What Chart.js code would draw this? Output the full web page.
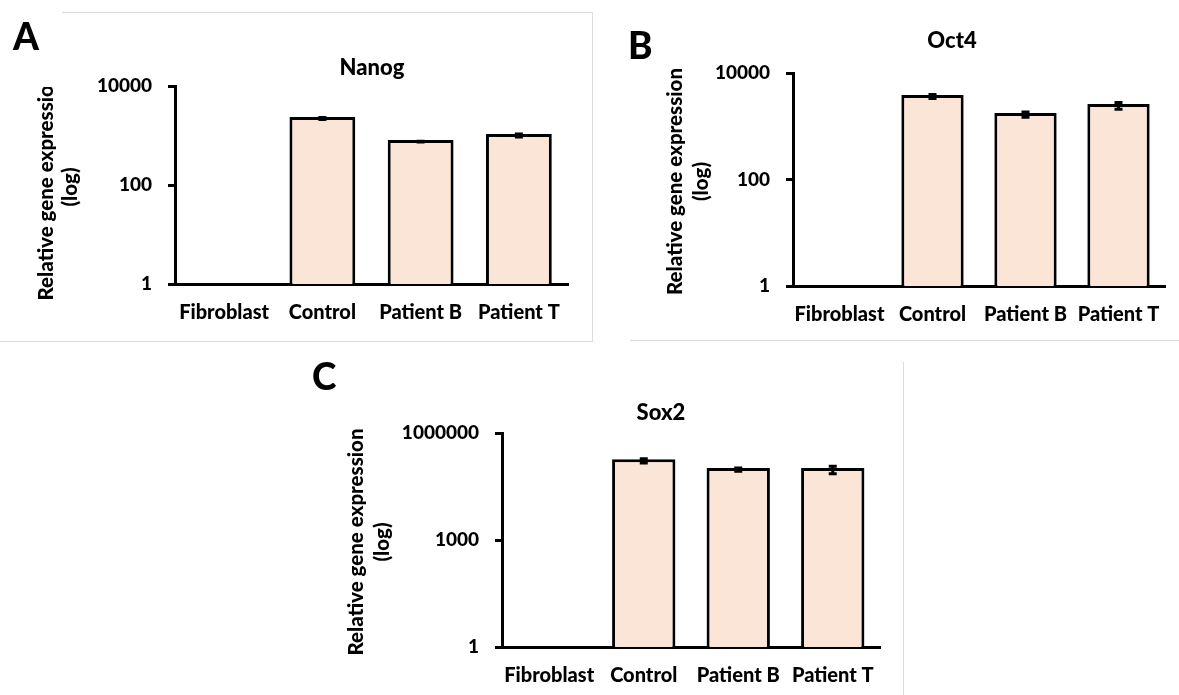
<!DOCTYPE html>
<html>
<head>
<meta charset="utf-8">
<script src="https://cdn.jsdelivr.net/npm/chart.js@4.4.1/dist/chart.umd.min.js"></script>
<style>
  body { margin: 0; background: #fff; }
  #wrap { position: relative; width: 1179px; height: 695px; overflow: hidden; }
  canvas { position: absolute; }
  .rule { position: absolute; background: #dcdcdc; }
</style>
</head>
<body>
<div id="wrap">
  <!-- cadres gris clairs autour des panneaux -->
  <div class="rule" style="left:62px;top:12px;width:530px;height:1px"></div>
  <div class="rule" style="left:592px;top:12px;width:1px;height:330px"></div>
  <div class="rule" style="left:0;top:341px;width:593px;height:1px"></div>
  <div class="rule" style="left:630px;top:340px;width:549px;height:1px"></div>
  <div class="rule" style="left:903px;top:362px;width:1px;height:333px"></div>

  <canvas id="chartA" width="600" height="345" style="left:0;top:0"></canvas>
  <canvas id="chartB" width="579" height="345" style="left:600px;top:0"></canvas>
  <canvas id="chartC" width="610" height="340" style="left:300px;top:355px"></canvas>
</div>

<script>
// Données
const categories = ["Fibroblast", "Control", "Patient B", "Patient T"];

const nanogValues = [1, 2360, 810, 1070];
const nanogErrors = [0, 110, 15, 75];

const oct4Values = [1, 3870, 1780, 2610];
const oct4Errors = [0, 330, 200, 380];

const sox2Values = [1, 185000, 104000, 104000];
const sox2Errors = [0, 25000, 11000, 25000];

const ticksSmall = [1, 100, 10000];
const ticksLarge = [1, 1000, 1000000];

const yLabelLines = ["Relative gene expression", "(log)"];

Chart.defaults.font.family = "Lato";
Chart.defaults.color = "#000";

// Barres d'erreur dessinées à partir de l'échelle y
const errorBars = {
  id: "errorBars",
  afterDatasetsDraw(chart, args, opts) {
    const meta = chart.getDatasetMeta(0);
    const y = chart.scales.y;
    const ctx = chart.ctx;
    const values = chart.data.datasets[0].data;
    ctx.save();
    ctx.strokeStyle = "#000";
    ctx.lineWidth = 3;
    meta.data.forEach((bar, i) => {
      const e = opts.errors[i];
      if (!e) return;
      const top = y.getPixelForValue(values[i] + e) + 1.5;
      const bot = y.getPixelForValue(values[i] - e) + 1.5;
      ctx.beginPath();
      ctx.moveTo(bar.x, top);
      ctx.lineTo(bar.x, bot);
      ctx.moveTo(bar.x - 4, top);
      ctx.lineTo(bar.x + 4, top);
      ctx.moveTo(bar.x - 4, bot);
      ctx.lineTo(bar.x + 4, bot);
      ctx.stroke();
    });
    ctx.restore();
  },
};

// Lettre du panneau, titre et titre de l'axe y
const panelText = {
  id: "panelText",
  afterDraw(chart, args, opts) {
    const ctx = chart.ctx;
    const area = chart.chartArea;
    ctx.save();
    ctx.fillStyle = "#000";
    ctx.textBaseline = "alphabetic";

    ctx.font = "900 37px Lato";
    ctx.textAlign = "left";
    ctx.fillText(opts.letter, opts.letterX, opts.letterY);

    ctx.font = "900 22px Lato";
    ctx.textAlign = "center";
    ctx.fillText(opts.title, opts.titleX, opts.titleY);

    if (opts.clipTop) {
      ctx.beginPath();
      ctx.rect(0, opts.clipTop, chart.width, chart.height);
      ctx.clip();
    }
    const cy = (area.top + area.bottom) / 2 + 2;
    ctx.font = "900 20.5px Lato";
    ctx.textBaseline = "middle";
    yLabelLines.forEach((line, i) => {
      ctx.save();
      ctx.translate(opts.yLabelX[i], cy);
      ctx.rotate(-Math.PI / 2);
      ctx.fillText(line, 0, 0);
      ctx.restore();
    });
    ctx.restore();
  },
};

function makeChart(id, values, errors, tickValues, yMax, padding, text) {
  return new Chart(document.getElementById(id), {
    type: "bar",
    data: {
      labels: categories,
      datasets: [
        {
          data: values,
          backgroundColor: "#FBE5D6",
          borderColor: "#000",
          borderWidth: 3,
          borderSkipped: "bottom",
          barPercentage: 0.67,
          categoryPercentage: 1,
        },
      ],
    },
    options: {
      responsive: false,
      animation: false,
      layout: { padding: padding },
      plugins: {
        legend: { display: false },
        tooltip: { enabled: false },
        errorBars: { errors: errors },
        panelText: text,
      },
      scales: {
        x: {
          offset: true,
          grid: { display: false, drawTicks: false },
          border: { display: true, color: "#000", width: 3 },
          ticks: { padding: 17, font: { size: 20, weight: "900" }, maxRotation: 0 },
          afterFit: (s) => { s.height = 45; },
        },
        y: {
          type: "logarithmic",
          min: 1,
          max: yMax,
          grid: { drawOnChartArea: false, drawTicks: true, tickLength: 7, color: "#000", lineWidth: 3 },
          border: { display: true, color: "#000", width: 3 },
          ticks: {
            padding: 16,
            font: { size: 19, weight: "900" },
            callback: (v) => String(v),
          },
          afterBuildTicks: (s) => { s.ticks = tickValues.map((v) => ({ value: v })); },
          afterFit: (s) => { s.width = 100; },
        },
      },
    },
    plugins: [errorBars, panelText],
  });
}

makeChart("chartA", nanogValues, nanogErrors, ticksSmall, 10000,
  { left: 75, top: 86, right: 32, bottom: 16 },
  { letter: "A", letterX: 13, letterY: 50, title: "Nanog", titleX: 372, titleY: 75,
    yLabelX: [46, 70], clipTop: 87 });

makeChart("chartB", oct4Values, oct4Errors, ticksSmall, 10000,
  { left: 93, top: 73, right: 14, bottom: 14 },
  { letter: "B", letterX: 28, letterY: 59, title: "Oct4", titleX: 352, titleY: 48,
    yLabelX: [75, 101] });

makeChart("chartC", sox2Values, sox2Errors, ticksLarge, 1000000,
  { left: 102, top: 78, right: 30, bottom: 3 },
  { letter: "C", letterX: 12, letterY: 35, title: "Sox2", titleX: 361, titleY: 65,
    yLabelX: [56, 82] });
</script>
</body>
</html>
